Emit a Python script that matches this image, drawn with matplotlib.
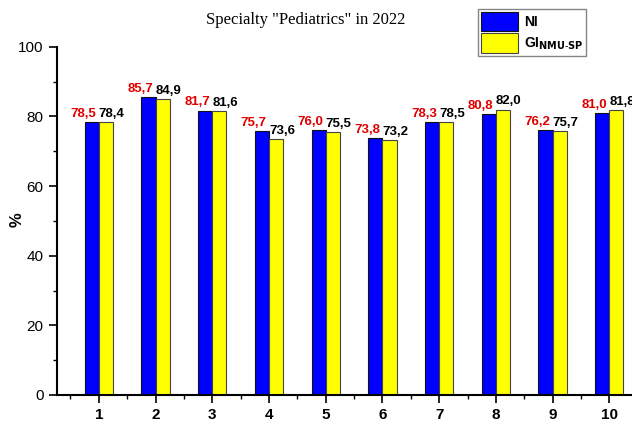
import numpy as np
import matplotlib.pyplot as plt
from matplotlib.ticker import MultipleLocator

categories = [1, 2, 3, 4, 5, 6, 7, 8, 9, 10]
ni_values = [78.5, 85.7, 81.7, 75.7, 76.0, 73.8, 78.3, 80.8, 76.2, 81.0]
gi_values = [78.4, 84.9, 81.6, 73.6, 75.5, 73.2, 78.5, 82.0, 75.7, 81.8]

plt.rcParams["font.family"] = ["Liberation Sans", "DejaVu Sans"]

fig = plt.figure(figsize=(6.32, 4.22), dpi=100)
ax = fig.add_axes([0.09, 0.064, 0.91, 0.825])

x = np.array(categories)
w = 0.25
b1 = ax.bar(x - w / 2, ni_values, w, color="#0000ff", edgecolor="#111111", linewidth=0.8, label="NI")
b2 = ax.bar(x + w / 2, gi_values, w, color="#ffff00", edgecolor="#444444", linewidth=0.8,
            label=r"GI$_{\mathbf{NMU\text{-}SP}}$")

for xi, v in zip(x, ni_values):
    ax.text(xi - 0.04, v + 0.6, f"{v:.1f}".replace(".", ","), ha="right", va="bottom",
            color="#e00000", fontsize=9.5, fontweight="bold")
for xi, v in zip(x, gi_values):
    ax.text(xi + 0.0, v + 0.6, f"{v:.1f}".replace(".", ","), ha="left", va="bottom",
            color="black", fontsize=9.5, fontweight="bold")

ax.set_xlim(0.26, 10.4)
ax.set_ylim(0, 100)
ax.set_xticks(categories)
ax.xaxis.set_minor_locator(MultipleLocator(0.5))
ax.yaxis.set_major_locator(MultipleLocator(20))
ax.yaxis.set_minor_locator(MultipleLocator(10))
ax.tick_params(which="major", direction="out", length=6, width=1.2, labelsize=11)
ax.tick_params(which="minor", direction="out", length=3, width=1.0)
for lab in ax.get_xticklabels():
    lab.set_fontweight("bold")

ax.spines["top"].set_visible(False)
ax.spines["right"].set_visible(False)
ax.spines["left"].set_linewidth(1.5)
ax.spines["bottom"].set_linewidth(1.5)

fig.text(0.027, 0.479, "%", rotation=90, ha="center", va="center",
         fontsize=12, fontweight="bold")

fig.text(0.483, 0.952, 'Specialty "Pediatrics" in 2022', ha="center", va="center",
         fontsize=12, family="Liberation Serif")

leg = fig.legend(handles=[b1, b2], loc="upper left", bbox_to_anchor=(0.756, 0.979),
                 frameon=True, fancybox=False, edgecolor="#666666",
                 prop={"weight": "bold", "size": 10}, handlelength=2.7, handleheight=1.8,
                 borderpad=0.2, labelspacing=0.15, handletextpad=0.4, borderaxespad=0)
leg.get_frame().set_linewidth(1.0)

fig.savefig("out.png", dpi=100)
